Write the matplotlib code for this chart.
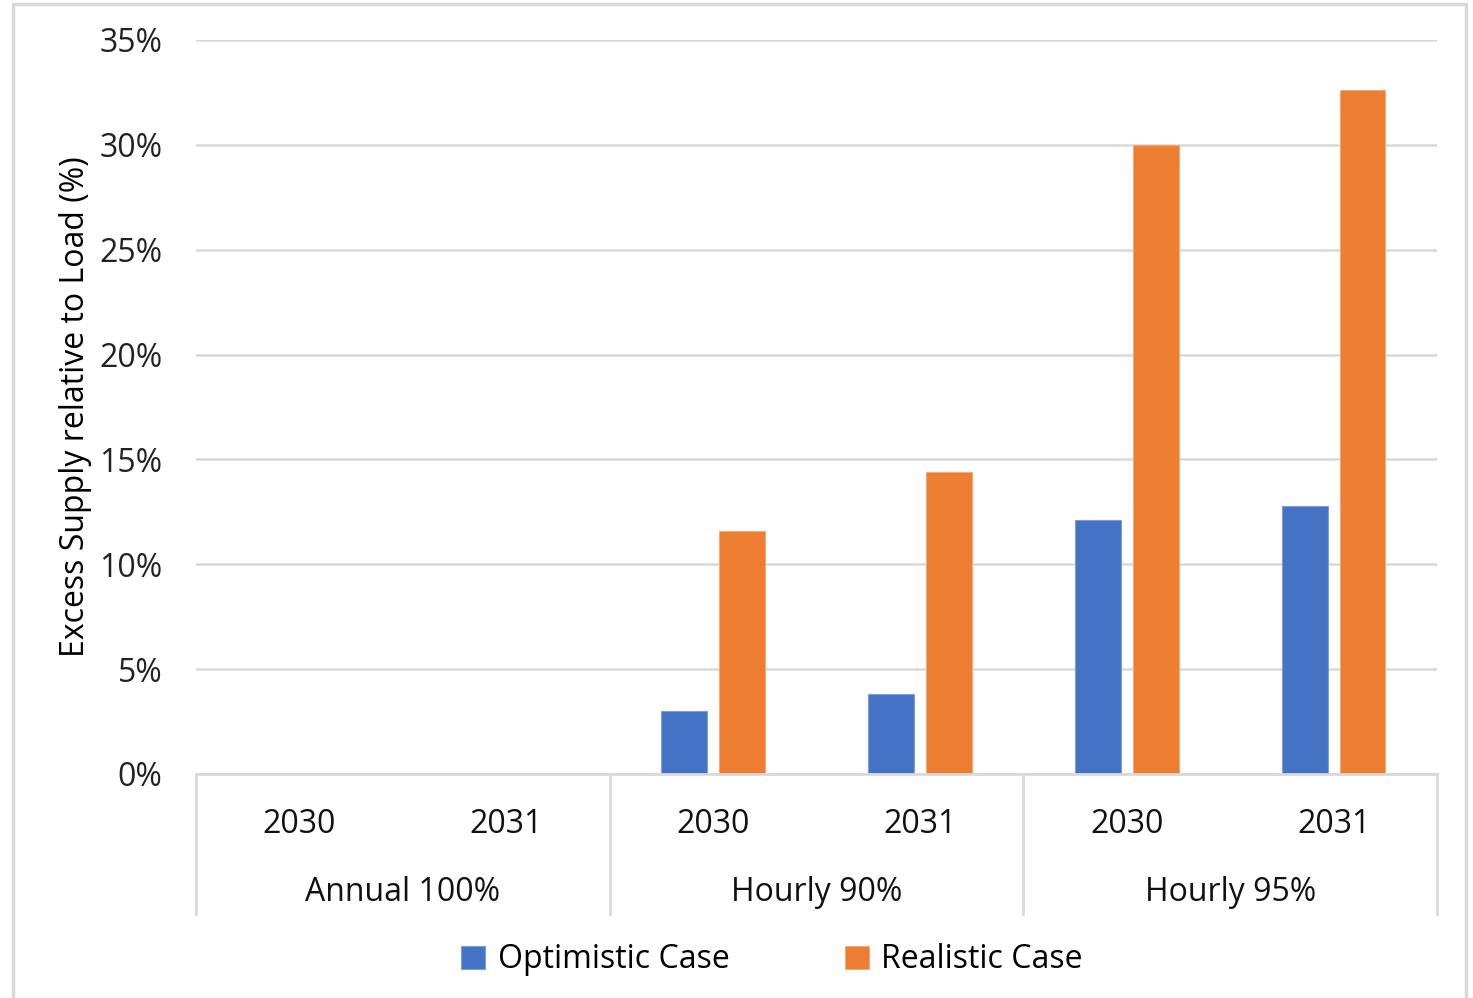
import numpy as np
import matplotlib.pyplot as plt
import matplotlib.patches as patches
import matplotlib.transforms as mtransforms
from matplotlib.ticker import PercentFormatter

plt.rcParams['font.family'] = ['Open Sans', 'DejaVu Sans']

groups = ['Annual 100%', 'Hourly 90%', 'Hourly 95%']
years = ['2030', '2031']
optimistic = [0.0, 0.0, 3.0, 3.8, 12.1, 12.8]
realistic = [0.0, 0.0, 11.6, 14.4, 30.0, 32.6]

blue = '#4472C4'
orange = '#ED7D31'
grid_col = '#D9D9D9'
fs = 23

fig = plt.figure(figsize=(14.73, 9.98), dpi=100)
ax = fig.add_axes([196/1473, 1 - 774/998, (1437-196)/1473, (774-40)/998])

# outer chart frame
fig.patches.append(patches.Rectangle((13/1473, -0.01), (1466-13)/1473, 1 - 4/998 + 0.01,
                                     transform=fig.transFigure, fill=False,
                                     edgecolor=grid_col, linewidth=2.5))

x = np.arange(len(optimistic))
w = 0.222
ax.bar(x - 0.14, optimistic, w, color=blue, edgecolor='#7F9ED8', linewidth=0.8,
       label='Optimistic Case', zorder=3)
ax.bar(x + 0.14, realistic, w, color=orange, edgecolor='#F4AA7A', linewidth=0.8,
       label='Realistic Case', zorder=3)

ax.set_xlim(-0.5, len(x) - 0.5)
ax.set_ylim(0, 35)
ax.set_yticks(np.arange(0, 36, 5))
ax.yaxis.set_major_formatter(PercentFormatter(decimals=0))
ax.tick_params(axis='y', length=0, labelsize=fs, pad=24, colors='#222222')
ax.tick_params(axis='x', length=0, labelbottom=False)
ax.grid(axis='y', color=grid_col, linewidth=1.8, zorder=0)
for s in ['top', 'right', 'left']:
    ax.spines[s].set_visible(False)
ax.spines['bottom'].set_color(grid_col)
ax.spines['bottom'].set_linewidth(2)
ax.spines['bottom'].set_zorder(4)

ax.set_ylabel('Excess Supply relative to Load (%)', fontsize=23)
ax.yaxis.set_label_coords(-0.084, 0.5)

# two-level category axis
trans = mtransforms.blended_transform_factory(ax.transData, ax.transAxes)
for b in [-0.5, 1.5, 3.5, 5.5]:
    ax.plot([b, b], [0, -0.1907], transform=trans, color=grid_col, linewidth=2,
            clip_on=False)
for i in x:
    ax.text(i, -0.069, years[i % 2], transform=trans, ha='center', va='center',
            fontsize=fs, color='#111111')
for g, name in enumerate(groups):
    ax.text(2 * g + 0.5, -0.161, name, transform=trans, ha='center', va='center',
            fontsize=fs, color='#111111')

fig.legend(loc='center', bbox_to_anchor=(772/1473, 1 - 960/998), ncol=2,
           frameon=False, fontsize=fs, handlelength=0.75, handleheight=0.75,
           handletextpad=0.4, columnspacing=3.6)

fig.savefig('out.png', dpi=100)
